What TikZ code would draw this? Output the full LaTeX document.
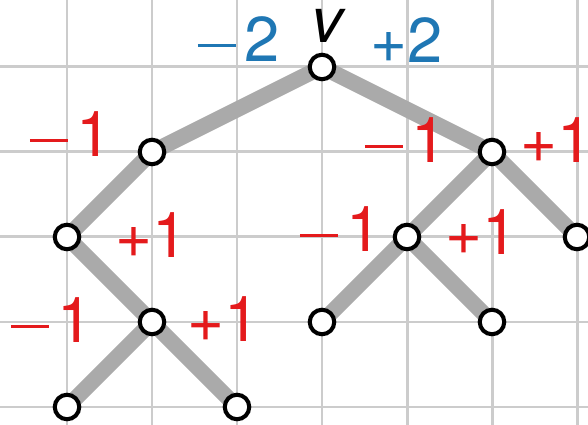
\documentclass[tikz,border=0pt]{standalone}
\usepackage{fontspec}
\setmainfont{TeX Gyre Heros}
\definecolor{gridc}{HTML}{CCCCCC}
\definecolor{edgec}{HTML}{AAAAAA}
\definecolor{redc}{HTML}{E41A1C}
\definecolor{bluec}{HTML}{1F77B4}
\newcommand\thinminus{\raisebox{4.4pt}{\rule{10.8pt}{0.85pt}}\kern2.6pt}
\pgfdeclarelayer{gridlayer}
\pgfdeclarelayer{edgelayer}
\pgfsetlayers{gridlayer,edgelayer,main}
\begin{document}
\begin{tikzpicture}[x=0.01cm,y=-0.01cm,
  gridline/.style={draw=gridc,line width=0.85pt},
  edge/.style={draw=edgec,line width=4.5pt},
  vtx/.style={circle,draw=black,fill=white,line width=1.15pt,minimum size=0.245cm,inner sep=0pt},
  lab/.style={font=\fontsize{18}{22}\selectfont,anchor=base,inner sep=0pt},
  rlab/.style={lab,text=redc},
  blab/.style={lab,text=bluec}]
\useasboundingbox (0,0) rectangle (588,425);
\begin{pgfonlayer}{gridlayer}
\fill[white] (0,0) rectangle (588,425);
\foreach \x in {67,152,...,577} \draw[gridline] (\x,0) -- (\x,425);
\foreach \y in {67,152,...,407} \draw[gridline] (0,\y) -- (588,\y);
\end{pgfonlayer}
\node[vtx] (v) at (322,67) {};
\node[vtx] (a) at (152,152) {};
\node[vtx] (b) at (492,152) {};
\node[vtx] (c) at (67,237) {};
\node[vtx] (d) at (407,237) {};
\node[vtx] (e) at (577,237) {};
\node[vtx] (f) at (152,322) {};
\node[vtx] (g) at (322,322) {};
\node[vtx] (h) at (492,322) {};
\node[vtx] (i) at (67,407) {};
\node[vtx] (j) at (237,407) {};
\begin{pgfonlayer}{edgelayer}
\draw[edge] (v.center) -- (a.center);
\draw[edge] (v.center) -- (b.center);
\draw[edge] (a.center) -- (c.center);
\draw[edge] (c.center) -- (f.center);
\draw[edge] (f.center) -- (i.center);
\draw[edge] (f.center) -- (j.center);
\draw[edge] (b.center) -- (d.center);
\draw[edge] (b.center) -- (e.center);
\draw[edge] (d.center) -- (g.center);
\draw[edge] (d.center) -- (h.center);
\end{pgfonlayer}
\node[lab] (lv) at (327,43) {\itshape v};
\node[blab] (lvl) at (239,62) {\thinminus2};
\node[blab] (lvr) at (407,63) {+2};
\node[rlab] (lal) at (71,157) {\thinminus1};
\node[rlab] (lbl) at (406,163) {\thinminus1};
\node[rlab] (lbr) at (557,163) {+1};
\node[rlab] (lcr) at (152,258) {+1};
\node[rlab] (lfl) at (52,343) {\thinminus1};
\node[rlab] (lfr) at (224,342) {+1};
\node[rlab] (ldl) at (341,252) {\thinminus1};
\node[rlab] (ldr) at (482,255) {+1};
\end{tikzpicture}
\end{document}
